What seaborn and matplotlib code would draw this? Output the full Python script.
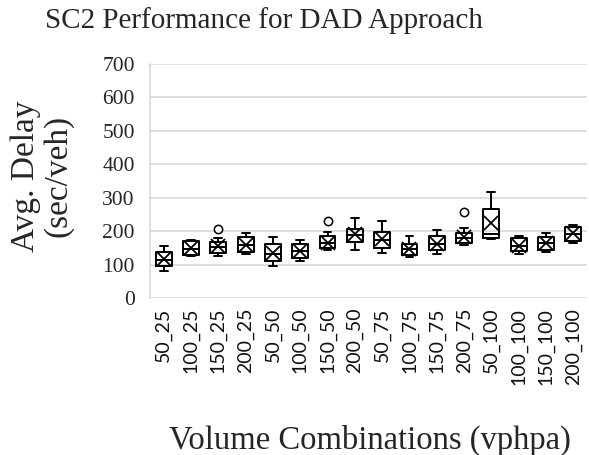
import matplotlib
matplotlib.use("Agg")
import matplotlib.pyplot as plt
import seaborn as sns
import pandas as pd

# Volume combinations (major_minor, vphpa)
combos = ["50_25", "100_25", "150_25", "200_25",
          "50_50", "100_50", "150_50", "200_50",
          "50_75", "100_75", "150_75", "200_75",
          "50_100", "100_100", "150_100", "200_100"]

# Box-plot summary of average delay (sec/veh) per combination
whisker_low = [80, 127, 125, 133, 96, 110, 145, 145, 135, 122, 132, 158, 176, 132, 138, 164]
q1 = [95, 130, 135, 138, 112, 120, 150, 168, 150, 130, 145, 165, 179, 140, 145, 170]
median = [115, 148, 152, 160, 133, 140, 165, 188, 175, 148, 162, 180, 192, 155, 165, 192]
q3 = [137, 172, 168, 183, 163, 162, 185, 205, 198, 163, 185, 195, 265, 178, 183, 212]
whisker_high = [155, 174, 178, 195, 182, 174, 198, 238, 231, 186, 202, 208, 318, 186, 194, 219]
mean = [117, 150, 155, 160, 135, 140, 165, 190, 176, 147, 163, 183, 224, 157, 165, 193]

# Points outside the whiskers
outlier_combo = ["150_25", "150_50", "200_75"]
outlier_delay = [205, 230, 258]

rows = []
for i, c in enumerate(combos):
    for v in (whisker_low[i], q1[i], median[i], q3[i], whisker_high[i]):
        rows.append({"combo": c, "delay": v})
df = pd.DataFrame(rows)

sns.set_theme(style="white")
serif = ["Liberation Serif", "DejaVu Serif"]
sans = ["Lato", "DejaVu Sans"]

fig = plt.figure(figsize=(5.89, 4.55), dpi=100)
ax = fig.add_axes([150 / 589, 1 - 298 / 455, 437 / 589, 234 / 455])

sns.boxplot(data=df, x="combo", y="delay", order=combos, whis=(0, 100),
            width=0.58, fill=False, color="black", linewidth=1.4,
            showfliers=False, ax=ax, zorder=3)
sns.pointplot(x=combos, y=mean, order=combos, errorbar=None,
              linestyle="none", marker="x", markersize=10,
              markeredgewidth=1.3, color="black", ax=ax, zorder=4)
sns.stripplot(x=outlier_combo, y=outlier_delay, order=combos, jitter=False,
              color="white", edgecolor="black", linewidth=1.1, size=6,
              ax=ax, zorder=5)

ax.set_ylim(0, 700)
ax.set_yticks(range(0, 701, 100))
ax.set_xlim(-0.5, len(combos) - 0.5)
ax.grid(axis="y", color="#d9d9d9", linewidth=1.2, zorder=0)
ax.set_axisbelow(True)
for side in ("top", "right", "bottom"):
    ax.spines[side].set_visible(False)
ax.spines["left"].set_color("#d9d9d9")
ax.spines["left"].set_linewidth(1.2)
ax.tick_params(length=0)
ax.tick_params(axis="y", pad=11)
ax.tick_params(axis="x", pad=7)
ax.set_xlabel("")
ax.set_ylabel("")

for lab in ax.get_yticklabels():
    lab.set_fontfamily(serif)
    lab.set_fontsize(15.5)
ax.set_xticks(range(len(combos)))
ax.set_xticklabels(combos, rotation=90, fontsize=14, family=sans,
                   va="top", ha="center", color="#111111")

fig.text(264 / 589, 1 - 21 / 455, "SC2 Performance for DAD Approach",
         ha="center", va="center", fontsize=21, family=serif)
fig.text(42 / 589, 1 - 176 / 455, "Avg. Delay\n(sec/veh)", rotation=90,
         ha="center", va="center", fontsize=24, family=serif,
         linespacing=1.1, multialignment="center")
fig.text(370 / 589, 1 - 440 / 455, "Volume Combinations (vphpa)",
         ha="center", va="center", fontsize=23.5, family=serif)

fig.savefig("out.png", dpi=100, facecolor="white")
